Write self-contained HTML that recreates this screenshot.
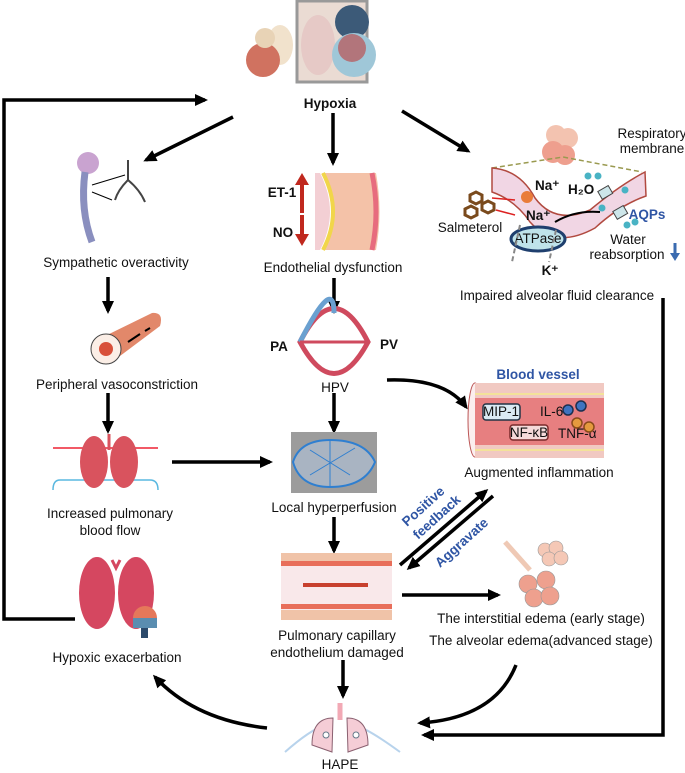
<!DOCTYPE html>
<html><head><meta charset="utf-8"><style>
body{margin:0;background:#fff}
svg{display:block}
text{font-family:"Liberation Sans",Arial,sans-serif;font-size:13.5px;fill:#111}
.b{font-weight:bold}
.bl{fill:#2f55a4;font-weight:bold}
</style></head><body>
<svg width="685" height="773" viewBox="0 0 685 773" xmlns="http://www.w3.org/2000/svg">
<defs>
<marker id="a" markerWidth="14" markerHeight="14" refX="10" refY="7" orient="auto" markerUnits="userSpaceOnUse">
<path d="M0,1 L13,7 L0,13 z" fill="#000"/></marker>
</defs>
<rect x="297" y="1" width="70" height="81" fill="#eadbd3" stroke="#999" stroke-width="3"/>
<ellipse cx="318" cy="45" rx="17" ry="30" fill="#e6c9c6"/>
<circle cx="352" cy="22" r="17" fill="#3c5a78"/>
<circle cx="354" cy="55" r="22" fill="#9fc7d8"/>
<circle cx="352" cy="48" r="14" fill="#c03e3e" opacity="0.6"/>
<ellipse cx="280" cy="45" rx="13" ry="20" fill="#f1e2cc"/>
<circle cx="263" cy="60" r="17" fill="#d07260"/>
<circle cx="265" cy="38" r="10" fill="#e8d3b6"/>
<text x="330" y="108" text-anchor="middle" class="b" font-size="15">Hypoxia</text>

<g stroke="#000" stroke-width="3.5" fill="none">
<polyline points="75,619 4,619 4,100 205,100" marker-end="url(#a)"/>
<polyline points="663,298 663,735 424,735" marker-end="url(#a)"/>
<line x1="233" y1="117" x2="146" y2="160" marker-end="url(#a)"/>
<line x1="333" y1="113" x2="333" y2="163" marker-end="url(#a)"/>
<line x1="402" y1="111" x2="468" y2="151" marker-end="url(#a)"/>
<line x1="108" y1="277" x2="108" y2="311" marker-end="url(#a)"/>
<line x1="108" y1="393" x2="108" y2="431" marker-end="url(#a)"/>
<line x1="334" y1="278" x2="334" y2="311" marker-end="url(#a)"/>
<line x1="334" y1="393" x2="334" y2="431" marker-end="url(#a)"/>
<path d="M387,380 Q445,378 466,407" marker-end="url(#a)"/>
<line x1="172" y1="462" x2="270" y2="462" marker-end="url(#a)"/>
<line x1="334" y1="517" x2="334" y2="551" marker-end="url(#a)"/>
<line x1="400" y1="565" x2="486" y2="491" marker-end="url(#a)"/>
<line x1="493" y1="496" x2="409" y2="568" marker-end="url(#a)"/>
<line x1="402" y1="595" x2="498" y2="595" marker-end="url(#a)"/>
<line x1="343" y1="660" x2="343" y2="696" marker-end="url(#a)"/>
<path d="M267,728 Q195,720 155,677" marker-end="url(#a)"/>
<path d="M516,665 Q495,718 420,723" marker-end="url(#a)"/>
</g>

<circle cx="88" cy="163" r="11" fill="#c9a3d0"/>
<path d="M85,172 Q80,210 92,242" stroke="#8a8fbf" stroke-width="7" fill="none"/>
<path d="M128,160 L128,180 M128,180 Q118,190 115,200 M128,180 Q140,190 145,202" stroke="#444" stroke-width="2" fill="none"/>
<path d="M92,185 L125,175 M92,192 L112,200" stroke="#000" stroke-width="1"/>
<text x="116" y="267" text-anchor="middle">Sympathetic overactivity</text>

<path d="M322,173 Q345,212 324,250 L376,250 Q383,212 376,173 z" fill="#f4c2a8"/>
<path d="M320,173 Q340,212 320,250 L315,250 L315,173 z" fill="#f3cfd4"/>
<path d="M323,173 Q343,212 323,250" stroke="#f1d64a" stroke-width="4" fill="none"/>
<path d="M372,173 Q380,212 372,250" stroke="#e76c7e" stroke-width="5" fill="none"/>
<text x="282" y="197" text-anchor="middle" class="b">ET-1</text>
<path d="M302,213 L302,182" stroke="#c0281e" stroke-width="4"/><path d="M295,185 L302,173 L309,185 z" fill="#c0281e"/>
<text x="283" y="237" text-anchor="middle" class="b">NO</text>
<path d="M302,215 L302,236" stroke="#c0281e" stroke-width="4"/><path d="M295,234 L302,246 L309,234 z" fill="#c0281e"/>
<text x="333" y="272" text-anchor="middle">Endothelial dysfunction</text>

<circle cx="556" cy="135" r="10" fill="#f3c3b0"/><circle cx="568" cy="138" r="10" fill="#f3c3b0"/>
<circle cx="553" cy="152" r="11" fill="#ee9f8e"/><circle cx="565" cy="155" r="10" fill="#ee9f8e"/>
<path d="M492,168 L563,157 L642,172" stroke="#9a9a50" stroke-width="1.5" stroke-dasharray="5,3" fill="none"/>
<path d="M492,168 Q520,170 535,198 Q555,225 590,210 Q620,185 645,172 L646,196 Q620,205 595,228 Q555,250 530,222 Q515,200 492,192 z" fill="#f1d6e4" stroke="#b14a40" stroke-width="1.5"/>
<circle cx="527" cy="197" r="6" fill="#e97c3a"/>
<rect x="599" y="188" width="12" height="9" fill="#cde6ea" stroke="#444" transform="rotate(-30 605 192)"/>
<rect x="614" y="208" width="12" height="9" fill="#cde6ea" stroke="#444" transform="rotate(-30 620 212)"/>
<circle cx="588" cy="176" r="3.5" fill="#49b3c4"/><circle cx="598" cy="176" r="3.5" fill="#49b3c4"/>
<circle cx="625" cy="190" r="3.5" fill="#49b3c4"/><circle cx="602" cy="208" r="3.5" fill="#49b3c4"/>
<circle cx="627" cy="225" r="3.5" fill="#49b3c4"/><circle cx="635" cy="222" r="3.5" fill="#49b3c4"/>
<polygon points="470,195 476,192 482,195 482,201 476,204 470,201" fill="none" stroke="#7a4a1c" stroke-width="3"/>
<polygon points="482,204 488,201 494,204 494,210 488,213 482,210" fill="none" stroke="#7a4a1c" stroke-width="3"/>
<polygon points="465,209 471,206 477,209 477,215 471,218 465,215" fill="none" stroke="#7a4a1c" stroke-width="3"/>
<path d="M492,198 L515,200 M496,210 L515,215" stroke="#d22" stroke-width="1.5"/>
<text x="652" y="138" text-anchor="middle" font-size="12">Respiratory</text>
<text x="652" y="153" text-anchor="middle" font-size="12">membrane</text>
<text x="535" y="190" class="b" font-size="11">Na⁺</text>
<text x="568" y="194" class="b" font-size="11">H₂O</text>
<text x="526" y="220" class="b" font-size="11">Na⁺</text>
<text x="470" y="232" text-anchor="middle" font-size="12">Salmeterol</text>
<ellipse cx="538" cy="239" rx="27" ry="12" fill="#bfe3ea" stroke="#1f3f6e" stroke-width="3"/>
<text x="538" y="243" text-anchor="middle" font-size="8">ATPase</text>
<path d="M555,222 Q575,210 600,212" stroke="#000" stroke-width="2" fill="none"/>
<path d="M520,225 L512,262 M556,230 L549,262" stroke="#888" stroke-width="2" stroke-dasharray="5,3"/>
<text x="550" y="275" text-anchor="middle" class="b" font-size="11">K⁺</text>
<text x="647" y="219" text-anchor="middle" class="bl" font-size="10">AQPs</text>
<text x="628" y="244" text-anchor="middle" font-size="12">Water</text>
<text x="627" y="259" text-anchor="middle" font-size="12">reabsorption</text>
<path d="M675,243 L675,255" stroke="#3a6bb0" stroke-width="3"/><path d="M670,253 L675,261 L680,253 z" fill="#3a6bb0"/>
<text x="557" y="300" text-anchor="middle">Impaired alveolar fluid clearance</text>

<path d="M103,337 L152,313 Q164,312 160,326 L112,362 z" fill="#e2886a"/>
<circle cx="106" cy="349" r="15" fill="#fbeee6" stroke="#444"/><circle cx="106" cy="349" r="7" fill="#d8503a"/>
<path d="M128,342 L140,334 M145,331 L150,328" stroke="#000" stroke-width="2"/>
<text x="117" y="389" text-anchor="middle">Peripheral vasoconstriction</text>

<path d="M300,342 Q334,275 368,342 Q334,405 300,342 z" fill="none" stroke="#cf4a5e" stroke-width="5"/>
<path d="M300,342 Q334,275 334,313" fill="none" stroke="#6aa0d0" stroke-width="5"/>
<line x1="300" y1="342" x2="368" y2="342" stroke="#cf4a5e" stroke-width="3"/>
<text x="279" y="351" text-anchor="middle" class="b">PA</text>
<text x="389" y="349" text-anchor="middle" class="b">PV</text>
<text x="335" y="392" text-anchor="middle">HPV</text>

<text x="538" y="379" text-anchor="middle" class="bl" font-size="14.5">Blood vessel</text>
<ellipse cx="475" cy="420" rx="7" ry="37" fill="#fbeeee" stroke="#b55" stroke-width="1"/>
<rect x="475" y="383" width="129" height="75" fill="#f1c9c2"/>
<rect x="475" y="398" width="129" height="47" fill="#e77f80"/>
<line x1="475" y1="394" x2="604" y2="394" stroke="#f3e29a" stroke-width="2"/>
<line x1="475" y1="450" x2="604" y2="450" stroke="#f3e29a" stroke-width="2"/>
<rect x="483" y="404" width="37" height="16" rx="3" fill="#dbeaf3" stroke="#234" stroke-width="1.5"/>
<text x="501" y="416" text-anchor="middle" font-size="11">MIP-1</text>
<rect x="510" y="425" width="38" height="15" rx="3" fill="#f5dada" stroke="#7a2a2a" stroke-width="1.5"/>
<text x="529" y="437" text-anchor="middle" font-size="11">NF-κB</text>
<text x="540" y="416" font-size="11">IL-6</text>
<text x="558" y="438" font-size="11">TNF-α</text>
<circle cx="568" cy="410" r="5" fill="#3f74c0" stroke="#1d3050" stroke-width="1.5"/>
<circle cx="581" cy="406" r="5" fill="#3f74c0" stroke="#1d3050" stroke-width="1.5"/>
<circle cx="577" cy="423" r="5" fill="#e49a3e" stroke="#8a4a1a" stroke-width="1.5"/>
<circle cx="589" cy="427" r="5" fill="#e49a3e" stroke="#8a4a1a" stroke-width="1.5"/>
<text x="539" y="477" text-anchor="middle">Augmented inflammation</text>

<line x1="53" y1="448" x2="158" y2="448" stroke="#e23" stroke-width="1.5"/>
<path d="M53,490 Q53,480 60,480 L150,480 Q158,480 158,490" stroke="#5ab8e0" stroke-width="1.5" fill="none"/>
<ellipse cx="94" cy="462" rx="14" ry="26" fill="#d9535e"/>
<ellipse cx="124" cy="462" rx="14" ry="26" fill="#d9535e"/>
<line x1="109" y1="434" x2="109" y2="450" stroke="#d9535e" stroke-width="3"/>
<text x="110" y="518" text-anchor="middle">Increased pulmonary</text>
<text x="110" y="535" text-anchor="middle">blood flow</text>

<rect x="291" y="432" width="86" height="61" fill="#9c9c9c"/>
<path d="M293,462 Q300,440 330,440 Q365,440 375,462 Q365,487 330,487 Q300,487 293,462 z" fill="#a9b4c2" stroke="#2f7fd0" stroke-width="2"/>
<path d="M310,450 L350,475 M310,475 L355,448 M330,440 L330,487" stroke="#2f7fd0" stroke-width="1"/>
<text x="334" y="512" text-anchor="middle">Local hyperperfusion</text>

<text class="bl" font-size="12" transform="translate(407,527) rotate(-42)">Positive</text>
<text class="bl" font-size="12" transform="translate(418,540) rotate(-42)">feedback</text>
<text class="bl" font-size="12" transform="translate(440,568) rotate(-42)">Aggravate</text>

<rect x="281" y="553" width="111" height="67" fill="#f9e8ea"/>
<rect x="281" y="553" width="111" height="8" fill="#f0c3a8"/>
<rect x="281" y="561" width="111" height="5" fill="#e86e5a"/>
<rect x="281" y="604" width="111" height="5" fill="#e86e5a"/>
<rect x="281" y="610" width="111" height="10" fill="#f0c3a8"/>
<rect x="303" y="583" width="65" height="4" fill="#c8402e"/>
<text x="337" y="640" text-anchor="middle">Pulmonary capillary</text>
<text x="337" y="657" text-anchor="middle">endothelium  damaged</text>

<path d="M505,542 L530,570" stroke="#efc9b5" stroke-width="5"/>
<circle cx="545" cy="550" r="7" fill="#f5c8b6" stroke="#999" stroke-width="0.6"/>
<circle cx="556" cy="548" r="7" fill="#f5c8b6" stroke="#999" stroke-width="0.6"/>
<circle cx="549" cy="559" r="7" fill="#f5c8b6" stroke="#999" stroke-width="0.6"/>
<circle cx="561" cy="558" r="7" fill="#f5c8b6" stroke="#999" stroke-width="0.6"/>
<circle cx="528" cy="584" r="9" fill="#eea08e" stroke="#999" stroke-width="0.6"/>
<circle cx="546" cy="580" r="9" fill="#eea08e" stroke="#999" stroke-width="0.6"/>
<circle cx="534" cy="598" r="9" fill="#eea08e" stroke="#999" stroke-width="0.6"/>
<circle cx="550" cy="596" r="9" fill="#eea08e" stroke="#999" stroke-width="0.6"/>
<text x="541" y="623" text-anchor="middle">The interstitial edema (early stage)</text>
<text x="541" y="645" text-anchor="middle">The alveolar edema(advanced stage)</text>

<ellipse cx="97" cy="593" rx="18" ry="36" fill="#d54760"/>
<ellipse cx="136" cy="593" rx="18" ry="36" fill="#d54760"/>
<path d="M112,560 L116,568 L120,560" stroke="#d54760" stroke-width="3" fill="none"/>
<path d="M133,618 A12,12 0 0 1 157,618 z" fill="#e5785a"/>
<rect x="133" y="618" width="24" height="10" fill="#5a8db0"/>
<rect x="141" y="628" width="7" height="10" fill="#2c4a6b"/>
<text x="117" y="662" text-anchor="middle">Hypoxic exacerbation</text>

<path d="M285,752 Q310,730 325,725 M400,752 Q370,730 355,725" stroke="#b8d3ec" stroke-width="2" fill="none"/>
<path d="M340,703 L340,720" stroke="#f2a9b5" stroke-width="5"/>
<path d="M333,718 Q312,718 312,745 L332,752 Z" fill="#f5cdd6" stroke="#8a6070"/>
<path d="M347,718 Q368,718 368,745 L348,752 Z" fill="#f5cdd6" stroke="#8a6070"/>
<circle cx="326" cy="735" r="3" fill="#fff" stroke="#678"/><circle cx="356" cy="735" r="3" fill="#fff" stroke="#678"/>
<text x="340" y="769" text-anchor="middle">HAPE</text>
</svg>
</body></html>
